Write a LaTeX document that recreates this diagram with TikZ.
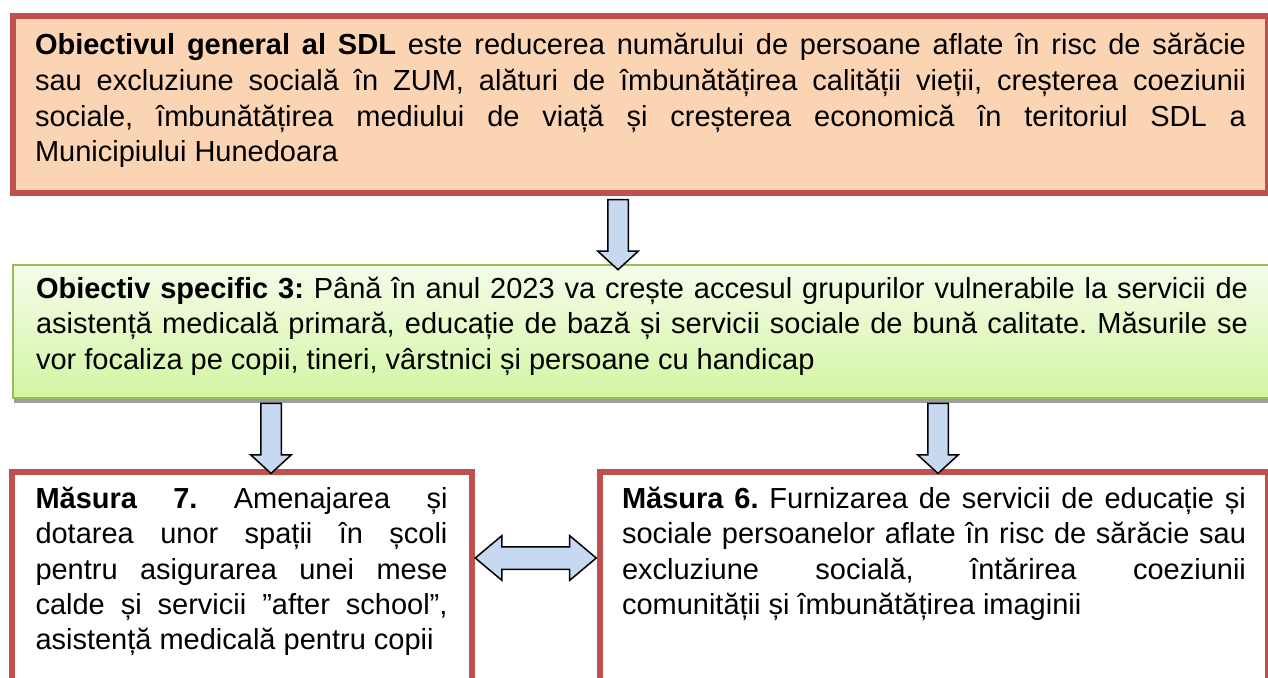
\documentclass[tikz,border=0pt]{standalone}
\usepackage{fontspec}
\setmainfont{Liberation Sans}
\usetikzlibrary{shapes.arrows,shadows}
\definecolor{sdlred}{HTML}{C0504D}
\definecolor{sdlpeach}{HTML}{FBD4B4}
\definecolor{specline}{HTML}{9BBB59}
\definecolor{spectop}{HTML}{F4FDEA}
\definecolor{specbottom}{HTML}{D3F5A2}
\definecolor{arrowblue}{HTML}{C6D9F1}
\hyphenpenalty=10000
\tolerance=9999
\frenchspacing
\tikzset{
  box/.style={rectangle, align=justify, anchor=north, text height=21pt,
    font=\fontsize{29}{35.6}\selectfont},
  redbox/.style={box, draw=sdlred, line width=6pt},
  downarrow/.style={single arrow, draw=black, line width=1.5pt, fill=arrowblue,
    inner sep=0pt, inner ysep=9.5pt, single arrow head extend=10pt,
    single arrow tip angle=95, minimum height=70pt},
  bothways/.style={double arrow, draw=black, line width=1.5pt, fill=arrowblue,
    inner sep=0pt, inner ysep=10.5pt, double arrow head extend=11pt,
    double arrow tip angle=80, minimum height=121pt}
}
\begin{document}
\begin{tikzpicture}[x=1pt,y=-1pt]
\useasboundingbox (0,0) rectangle (1268,677);
\clip (0,0) rectangle (1268,677);
\node[redbox, fill=sdlpeach, text width=1211pt, inner xsep=22pt, inner ysep=18pt, text depth=120pt](gen) at (640.5,13)
{\textbf{Obiectivul general al SDL} este reducerea numărului de persoane aflate în risc de sărăcie\linebreak
sau excluziune socială în ZUM, alături de îmbunătățirea calității vieții, creșterea coeziunii\linebreak
sociale, îmbunătățirea mediului de viață și creșterea economică în teritoriul SDL a\linebreak
Municipiului Hunedoara};
\node[box, draw=specline, line width=2pt, top color=spectop, bottom color=specbottom,
  drop shadow={shadow xshift=1pt, shadow yshift=-5pt, fill=black!38, opacity=1},
  text width=1212pt, inner xsep=23pt, inner ysep=12pt, text depth=88pt](spec) at (642,264)
{\textbf{Obiectiv specific 3:} Până în anul 2023 va crește accesul grupurilor vulnerabile la servicii de\linebreak
asistență medicală primară, educație de bază și servicii sociale de bună calitate. Măsurile se\linebreak
vor focaliza pe copii, tineri, vârstnici și persoane cu handicap};
\node[redbox, fill=white, font=\fontsize{29}{35.3}\selectfont, text width=412pt, inner xsep=24pt, inner ysep=16pt, text depth=240pt](m7) at (241.5,468.5)
{\textbf{Măsura 7.} Amenajarea și\linebreak
dotarea unor spații în școli\linebreak
pentru asigurarea unei mese\linebreak
calde și servicii ”after school”,\linebreak
asistență medicală pentru copii};
\node[redbox, fill=white, font=\fontsize{29}{35.3}\selectfont, text width=624pt, inner xsep=22pt, inner ysep=16pt, text depth=240pt](m6) at (934,468.5)
{\textbf{Măsura 6.} Furnizarea de servicii de educație și\linebreak
sociale persoanelor aflate în risc de sărăcie sau\linebreak
excluziune socială, întărirea coeziunii\linebreak
comunității și îmbunătățirea imaginii};
\coordinate (x1) at (618,0);
\coordinate (x2) at (271,0);
\coordinate (x3) at (938,0);
\coordinate (y4) at (0,558);
\path (gen.south -| x1) -- (spec.north -| x1) node[midway, sloped, allow upside down, downarrow](a1){};
\path (spec.south -| x2) -- (m7.north -| x2) node[midway, sloped, allow upside down, downarrow](a2){};
\path (spec.south -| x3) -- (m6.north -| x3) node[midway, sloped, allow upside down, downarrow](a3){};
\path (m7.east |- y4) -- (m6.west |- y4) node[midway, sloped, bothways](a4){};
\end{tikzpicture}
\end{document}
